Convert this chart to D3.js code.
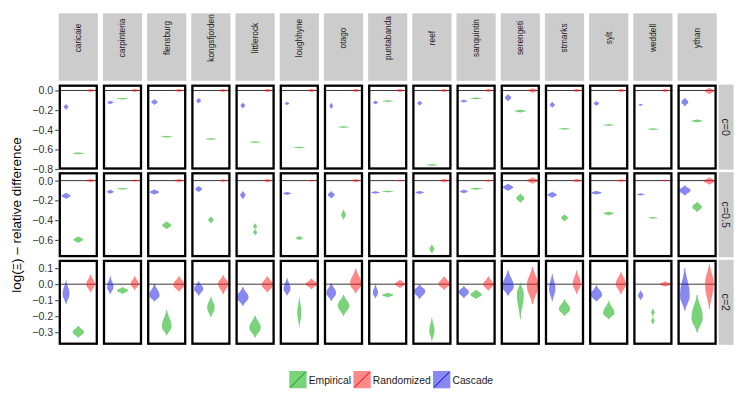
<!DOCTYPE html>
<html><head><meta charset="utf-8">
<script src="https://cdn.jsdelivr.net/npm/d3@7"></script>
<style>body{margin:0;background:#fff} svg{display:block} text{font-family:"Liberation Sans",Arial,sans-serif}</style>
</head><body><svg id="c" width="747" height="408"></svg>
<script>
const sites = ["caricaie","carpinteria","flensburg","kongsfjorden","littlerock","loughhyne","otago","puntabanda","reef","sanquintin","serengeti","stmarks","sylt","weddell","ythan"];
const conditions = ["c=0","c=0.5","c=2"];
const xCats = ["Cascade","Empirical","Randomized"];
const legendOrder = ["Empirical","Randomized","Cascade"];
const yTicks = [[0,-0.2,-0.4,-0.6,-0.8],[0,-0.2,-0.4,-0.6],[0.1,0,-0.1,-0.2,-0.3]];
const yDomains = [[-0.805,0.06],[-0.775,0.085],[-0.378,0.152]];

// violins: [mode, min, max, relative width, optional second mode]
const c0Cascade = [[-0.167,-0.195,-0.139,.4],[-0.122,-0.139,-0.105,.55],[-0.118,-0.146,-0.090,.55],[-0.104,-0.132,-0.076,.4],[-0.153,-0.181,-0.125,.4],[-0.132,-0.149,-0.115,.4],[-0.157,-0.188,-0.126,.3],[-0.122,-0.139,-0.105,.45],[-0.129,-0.153,-0.105,.4],[-0.108,-0.122,-0.094,.6],[-0.073,-0.108,-0.038,.55],[-0.146,-0.174,-0.118,.45],[-0.132,-0.156,-0.108,.45],[-0.146,-0.156,-0.136,.4],[-0.118,-0.160,-0.076,.6]];
const c0Empirical = [[-0.640,-0.650,-0.630,1],[-0.083,-0.091,-0.075,1],[-0.470,-0.478,-0.462,1],[-0.494,-0.502,-0.486,1],[-0.525,-0.533,-0.517,1],[-0.580,-0.588,-0.572,1],[-0.372,-0.380,-0.364,1],[-0.108,-0.116,-0.100,1],[-0.758,-0.766,-0.750,1],[-0.080,-0.088,-0.072,1],[-0.209,-0.223,-0.195,1],[-0.390,-0.398,-0.382,1],[-0.351,-0.359,-0.343,1],[-0.393,-0.401,-0.385,1],[-0.310,-0.324,-0.296,1]];
const c0Randomized = [[0,-0.015,0.015,.75],[0,-0.015,0.015,.75],[0,-0.015,0.015,.75],[0,-0.015,0.015,.75],[0,-0.015,0.015,.75],[0,-0.015,0.015,.75],[0,-0.015,0.015,.75],[0,-0.015,0.015,.75],[0,-0.015,0.015,.75],[0,-0.015,0.015,.75],[0,-0.022,0.022,.8],[0,-0.015,0.015,.75],[0,-0.015,0.015,.75],[0,-0.015,0.015,.75],[-0.005,-0.035,0.025,.85]];

const c05Cascade = [[-0.154,-0.184,-0.124,.8],[-0.113,-0.133,-0.093,.6],[-0.116,-0.141,-0.091,.8],[-0.086,-0.116,-0.056,.6],[-0.147,-0.187,-0.107,.45],[-0.130,-0.145,-0.115,.7],[-0.144,-0.179,-0.109,.6],[-0.120,-0.132,-0.108,.75],[-0.120,-0.135,-0.105,.75],[-0.110,-0.128,-0.092,.7],[-0.068,-0.103,-0.033,.9],[-0.144,-0.174,-0.114,.8],[-0.123,-0.141,-0.105,.9],[-0.140,-0.150,-0.130,.7],[-0.100,-0.150,-0.050,1]];
const c05Empirical = [[-0.598,-0.630,-0.566,.85],[-0.082,-0.090,-0.074,1],[-0.452,-0.490,-0.414,.8],[-0.397,-0.432,-0.362,.45],[-0.462,-0.550,-0.435,.35,-0.524],[-0.582,-0.602,-0.562,.6],[-0.346,-0.396,-0.296,.4],[-0.110,-0.118,-0.102,1],[-0.692,-0.737,-0.647,.4],[-0.082,-0.092,-0.072,1],[-0.178,-0.223,-0.133,.7],[-0.377,-0.412,-0.342,.6],[-0.332,-0.350,-0.314,.9],[-0.377,-0.385,-0.369,.8],[-0.267,-0.317,-0.217,.85]];
const c05Randomized = [[0,-0.015,0.015,.9],[0,-0.01,0.01,.7],[0,-0.015,0.015,.9],[0,-0.012,0.012,.8],[0,-0.015,0.015,.8],[0,-0.008,0.008,.8],[0,-0.015,0.015,.8],[0,-0.008,0.008,.75],[0,-0.015,0.015,.9],[0,-0.01,0.01,.7],[0,-0.03,0.03,1],[0,-0.015,0.015,.9],[0,-0.012,0.012,.9],[0,-0.008,0.008,.6],[-0.005,-0.04,0.03,1]];

const c2Cascade = [[-0.061,-0.124,0.023,.6],[-0.019,-0.061,0.05,.55],[-0.071,-0.107,0.002,.9],[-0.03,-0.071,0.017,.8],[-0.082,-0.134,-0.019,1],[-0.03,-0.071,0.038,.6],[-0.055,-0.103,0.006,.85],[-0.055,-0.088,-0.002,.45],[-0.044,-0.092,-0.004,1],[-0.05,-0.086,-0.013,.9],[-0.015,-0.071,0.086,1],[-0.03,-0.107,0.065,.55],[-0.067,-0.107,-0.008,1],[-0.071,-0.099,-0.04,.45],[-0.071,-0.166,0.1,.85]];
const c2Empirical = [[-0.3,-0.333,-0.26,1],[-0.04,-0.06,-0.019,1],[-0.265,-0.319,-0.161,.85],[-0.145,-0.208,-0.078,.65],[-0.27,-0.333,-0.197,1],[-0.176,-0.27,-0.082,.35],[-0.134,-0.197,-0.067,1],[-0.067,-0.082,-0.055,1],[-0.29,-0.354,-0.208,.45],[-0.065,-0.092,-0.036,1],[-0.061,-0.218,0.008,.6],[-0.155,-0.197,-0.096,1],[-0.18,-0.218,-0.107,1],[-0.176,-0.249,-0.155,.3,-0.229],[-0.208,-0.302,-0.067,1]];
const c2Randomized = [[0,-0.05,0.059,.75],[0,-0.036,0.05,.7],[-0.004,-0.046,0.05,1],[0.002,-0.061,0.055,.9],[-0.004,-0.05,0.05,1],[0,-0.03,0.034,1],[0.002,-0.055,0.096,1],[0,-0.023,0.027,.9],[0,-0.034,0.048,1],[-0.004,-0.04,0.048,.9],[-0.008,-0.124,0.107,1],[0.002,-0.061,0.086,.7],[0.002,-0.061,0.075,.9],[0,-0.015,0.017,1],[0.002,-0.155,0.128,.75]];

const violinRows = [
  {Cascade:c0Cascade, Empirical:c0Empirical, Randomized:c0Randomized},
  {Cascade:c05Cascade, Empirical:c05Empirical, Randomized:c05Randomized},
  {Cascade:c2Cascade, Empirical:c2Empirical, Randomized:c2Randomized}
];
const fillCol = {Empirical:"#00aa00", Randomized:"#ff1a1a", Cascade:"#1a1ae6"};
const lineCol = {Empirical:"#00a000", Randomized:"#ff0000", Cascade:"#0000e0"};

const svg = d3.select("#c");
const px0 = 58.7, pitch = 44.2, pw = 39.2;
const rowTop = [84.6, 172.2, 259.8], ph = 85;

sites.forEach((s,i)=>{
  const x0 = px0 + i*pitch;
  svg.append("rect").attr("x",x0).attr("y",13.3).attr("width",pw).attr("height",67.5).attr("fill","#cccccc");
  svg.append("text").attr("transform",`translate(${x0+pw/2},38) rotate(-90)`)
    .attr("text-anchor","middle").attr("dy","0.35em").attr("font-size",8.3).attr("fill","#1a1a1a").text(s);
});

function profile(v, d){
  const [m, lo, hi, w, m2] = d;
  if (m2 === undefined){
    const s = v < m ? (m-lo)/2.0 : (hi-m)/2.0;
    const z = Math.abs((v-m)/s);
    return Math.exp(-0.5*Math.pow(z,2.4));
  }
  const s = ((hi-lo) - Math.abs(m2-m))/4.0;
  const g = (c)=>Math.exp(-0.5*((v-c)/s)**2);
  return (g(m)+g(m2))/ (1+Math.exp(-0.5*((m-m2)/s)**2));
}

conditions.forEach((cond,r)=>{
  const y = d3.scaleLinear().domain(yDomains[r]).range([rowTop[r]+ph, rowTop[r]]);
  svg.append("rect").attr("x",718.6).attr("y",rowTop[r]).attr("width",15).attr("height",ph).attr("fill","#cccccc");
  svg.append("text").attr("transform",`translate(726.1,${rowTop[r]+ph/2}) rotate(90)`)
    .attr("text-anchor","middle").attr("dy","0.35em").attr("font-size",10.6).attr("fill","#1a1a1a").text(cond);
  const ax = svg.append("g").attr("transform",`translate(${px0},0)`)
    .call(d3.axisLeft(y).tickValues(yTicks[r]).tickSize(3.5).tickPadding(2).tickFormat(d3.format(".1f")));
  ax.select(".domain").remove();
  ax.selectAll("text").attr("font-size",10.6).attr("fill","#333").attr("font-family","Liberation Sans, Arial, sans-serif")
    .text(d=>d3.format(".1f")(d).replace("-","\u2212"));
  ax.selectAll("line").attr("stroke","#333");

  sites.forEach((s,i)=>{
    const x0 = px0 + i*pitch;
    const x = d3.scalePoint().domain(xCats).range([x0, x0+pw]).padding(0.6);
    const g = svg.append("g");
    g.append("rect").attr("x",x0).attr("y",rowTop[r]).attr("width",pw).attr("height",ph).attr("fill","#fff");
    g.append("line").attr("x1",x0).attr("x2",x0+pw).attr("y1",y(0)).attr("y2",y(0)).attr("stroke","#222").attr("stroke-width",0.9);
    const maxHalf = 0.45*x.step();
    xCats.forEach(cat=>{
      const d = violinRows[r][cat][i];
      const cx = x(cat);
      const n = 60;
      const pts = d3.range(n+1).map(k=>{
        const v = d[1] + (d[2]-d[1])*k/n;
        return {v, hw: profile(v,d)*d[3]*maxHalf};
      });
      const area = d3.area().y(p=>y(p.v)).x0(p=>cx-p.hw).x1(p=>cx+p.hw).curve(d3.curveBasis);
      g.append("path").attr("d",area(pts)).attr("fill",fillCol[cat]).attr("fill-opacity",0.52)
        .attr("stroke",lineCol[cat]).attr("stroke-opacity",0.15).attr("stroke-width",0.5);
    });
    g.append("rect").attr("x",x0+1.1).attr("y",rowTop[r]+1.1).attr("width",pw-2.2).attr("height",ph-2.2)
      .attr("fill","none").attr("stroke","#000").attr("stroke-width",2.3);
  });
});

const yt = svg.append("text").attr("transform","translate(21,215) rotate(-90)").attr("text-anchor","middle")
  .attr("font-size",13.5).attr("fill","#000");
yt.append("tspan").text("log(");
yt.append("tspan").text("\u039E").attr("font-size",11);
yt.append("tspan").text(") \u2013 relative difference");

let lx = 289.3;
legendOrder.forEach(cat=>{
  const g = svg.append("g");
  g.append("rect").attr("x",lx).attr("y",371).attr("width",17.3).attr("height",17.3).attr("fill",fillCol[cat]).attr("fill-opacity",0.52);
  g.append("line").attr("x1",lx+1).attr("y1",387.3).attr("x2",lx+16.3).attr("y2",372).attr("stroke",lineCol[cat]).attr("stroke-width",1);
  const t = g.append("text").attr("x",lx+19.4).attr("y",380).attr("dy","0.35em").attr("font-size",10.3).attr("fill","#1a1a1a").text(cat);
  lx = lx + 19.4 + t.node().getComputedTextLength() + 2.4;
});
</script></body></html>
